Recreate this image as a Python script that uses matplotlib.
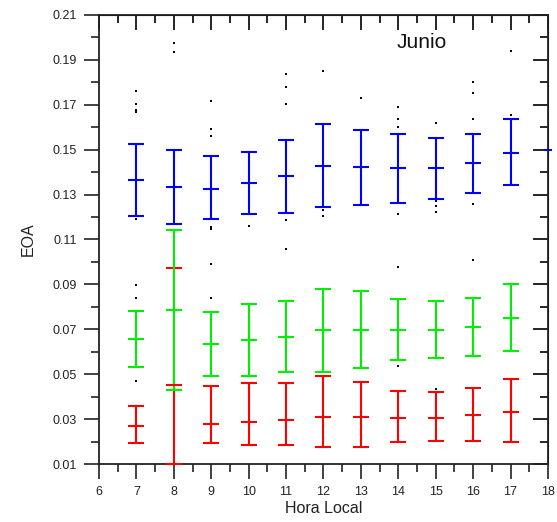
import numpy as np
import matplotlib
matplotlib.use('Agg')
import matplotlib.pyplot as plt
from matplotlib.ticker import MultipleLocator, FormatStrFormatter

plt.rcParams['font.family'] = ['Liberation Sans', 'DejaVu Sans']

hours = [7, 8, 9, 10, 11, 12, 13, 14, 15, 16, 17]

# blue series: mean, upper and lower end of the bar
blue_mean = [0.1365, 0.1332, 0.1326, 0.1350, 0.1384, 0.1429, 0.1424, 0.1418, 0.1418, 0.1441, 0.1485]
blue_hi   = [0.1525, 0.1497, 0.1471, 0.1491, 0.1545, 0.1613, 0.1589, 0.1571, 0.1551, 0.1571, 0.1635]
blue_lo   = [0.1206, 0.1168, 0.1190, 0.1212, 0.1220, 0.1246, 0.1252, 0.1264, 0.1280, 0.1309, 0.1344]

green_mean = [0.0658, 0.0785, 0.0636, 0.0654, 0.0666, 0.0698, 0.0698, 0.0698, 0.0698, 0.0710, 0.0750]
green_hi   = [0.0783, 0.1141, 0.0778, 0.0814, 0.0825, 0.0881, 0.0872, 0.0836, 0.0825, 0.0841, 0.0903]
green_lo   = [0.0533, 0.0431, 0.0493, 0.0493, 0.0511, 0.0511, 0.0529, 0.0563, 0.0573, 0.0580, 0.0602]

red_mean = [0.0271, 0.0453, 0.0277, 0.0287, 0.0295, 0.0311, 0.0311, 0.0305, 0.0305, 0.0320, 0.0333]
red_hi   = [0.0357, 0.0973, 0.0447, 0.0459, 0.0459, 0.0493, 0.0465, 0.0427, 0.0419, 0.0437, 0.0477]
red_lo   = [0.0192, 0.0098, 0.0192, 0.0186, 0.0186, 0.0174, 0.0174, 0.0197, 0.0203, 0.0203, 0.0197]

# single blue mark at 18 h
extra_hour = [18]
extra_val = [0.1497]

# scattered individual values (black dots)
dot_x = [7, 7, 7, 7, 7, 7, 7, 7,
         8, 8,
         9, 9, 9, 9, 9, 9, 9,
         10,
         11, 11, 11, 11, 11,
         12, 12, 12,
         13,
         14, 14, 14, 14, 14, 14,
         15, 15, 15, 15, 15,
         16, 16, 16, 16, 16,
         17, 17]
dot_y = [0.1760, 0.1704, 0.1677, 0.1668, 0.1191, 0.0896, 0.0838, 0.0468,
         0.1974, 0.1935,
         0.1716, 0.1594, 0.1560, 0.1157, 0.1148, 0.0989, 0.0841,
         0.1160,
         0.1836, 0.1778, 0.1702, 0.1186, 0.1056,
         0.1849, 0.1230, 0.1203,
         0.1729,
         0.1690, 0.1635, 0.1600, 0.1212, 0.0976, 0.0537,
         0.1618, 0.1271, 0.1251, 0.1221, 0.0433,
         0.1800, 0.1751, 0.1638, 0.1260, 0.1007,
         0.1938, 0.1656]

fig = plt.figure(figsize=(5.57, 5.22), dpi=100)
ax = fig.add_axes([0.1777, 0.1111, 0.806, 0.8602])

def bars(mean, hi, lo, color):
    m = np.array(mean)
    err = [m - np.array(lo), np.array(hi) - m]
    ax.errorbar(hours, m, yerr=err, fmt='_', color=color, ecolor=color,
                elinewidth=1.5, capsize=5.8, capthick=1.5, markersize=11.5,
                markeredgewidth=1.5, clip_on=False, zorder=3)

ax.scatter(dot_x, dot_y, s=1.2, color='black', marker='s', linewidths=0, zorder=4)
bars(blue_mean, blue_hi, blue_lo, '#0000ff')
bars(red_mean, red_hi, red_lo, '#ff0000')
bars(green_mean, green_hi, green_lo, '#00ee00')
ax.plot(extra_hour, extra_val, '_', color='#0000ff', markersize=6, markeredgewidth=1.5, clip_on=False)

ax.set_xlim(6, 18)
ax.set_ylim(0.01, 0.21)
ax.xaxis.set_major_locator(MultipleLocator(1))
ax.xaxis.set_minor_locator(MultipleLocator(0.5))
ax.set_yticks(np.arange(0.01, 0.2101, 0.02))
ax.set_yticks(np.arange(0.02, 0.21, 0.02), minor=True)
ax.yaxis.set_major_formatter(FormatStrFormatter('%.2f'))

for s in ax.spines.values():
    s.set_linewidth(1.3)
    s.set_color('#222222')
ax.tick_params(which='major', direction='out', length=11, width=1.2, color='#222222',
               labelsize=9, labelcolor='#222222', pad=5)
ax.tick_params(which='minor', direction='out', length=5.5, width=1.2, color='#222222')

top = ax.secondary_xaxis('top')
top.xaxis.set_major_locator(MultipleLocator(1))
top.xaxis.set_minor_locator(MultipleLocator(0.5))
top.tick_params(which='major', direction='in', length=11, width=1.2, labeltop=False)
top.tick_params(which='minor', direction='in', length=5.5, width=1.2)
right = ax.secondary_yaxis('right')
right.set_yticks(np.arange(0.01, 0.2101, 0.02))
right.set_yticks(np.arange(0.02, 0.21, 0.02), minor=True)
right.tick_params(which='major', direction='in', length=11, width=1.2, labelright=False)
right.tick_params(which='minor', direction='in', length=5.5, width=1.2)

ax.set_xlabel('Hora Local', fontsize=11.5, color='#222222', labelpad=2)
ax.set_ylabel('EOA', fontsize=11.5, color='#222222', labelpad=12)
ax.text(13.95, 0.1955, 'Junio', fontsize=15, color='#111111')

fig.savefig('out.png', dpi=100)
